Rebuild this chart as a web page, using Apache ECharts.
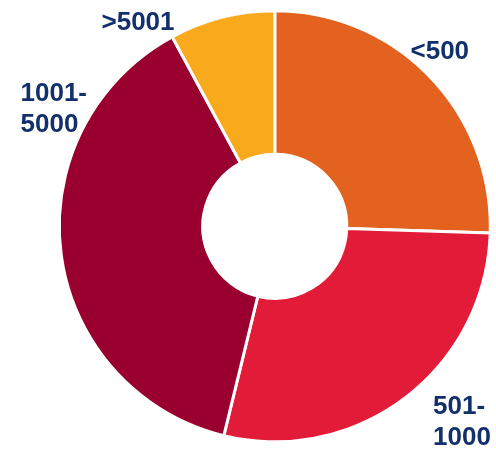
<!DOCTYPE html>
<html>
<head>
<meta charset="utf-8">
<script src="https://cdn.jsdelivr.net/npm/echarts@6/dist/echarts.min.js"></script>
<style>
html,body{margin:0;padding:0;background:#fff;}
#chart{width:496px;height:450px;}
</style>
</head>
<body>
<div id="chart"></div>
<script>
const categories = ['<500', '501-\n1000', '1001-\n5000', '>5001'];
const shares = [25.5, 28.3, 38.3, 7.9];
const colors = ['#E36220', '#E21B38', '#990030', '#F8AA1C'];

// label placement (left edge x, vertical middle y) per slice
const labelPos = [
  [410.5, 51.5],
  [433, 422.5],
  [20.5, 109],
  [101.5, 22.5]
];

const chart = echarts.init(document.getElementById('chart'), null, {renderer: 'canvas'});
chart.setOption({
  animation: false,
  series: [{
    type: 'pie',
    center: [274.8, 226.3],
    radius: [72, 215.5],
    startAngle: 90,
    clockwise: true,
    avoidLabelOverlap: false,
    itemStyle: { borderColor: '#ffffff', borderWidth: 3 },
    label: {
      show: true,
      position: 'outside',
      formatter: '{b}',
      color: '#12306B',
      fontFamily: 'Liberation Sans, Arial, sans-serif',
      fontWeight: 'bold',
      fontSize: 26,
      lineHeight: 31,
      align: 'left'
    },
    labelLine: { show: false },
    labelLayout: function (p) {
      const pos = labelPos[p.dataIndex];
      return { x: pos[0], y: pos[1], align: 'left', verticalAlign: 'middle' };
    },
    emphasis: { disabled: true },
    data: categories.map((c, i) => ({
      name: c,
      value: shares[i],
      itemStyle: { color: colors[i] }
    }))
  }]
});
</script>
</body>
</html>
